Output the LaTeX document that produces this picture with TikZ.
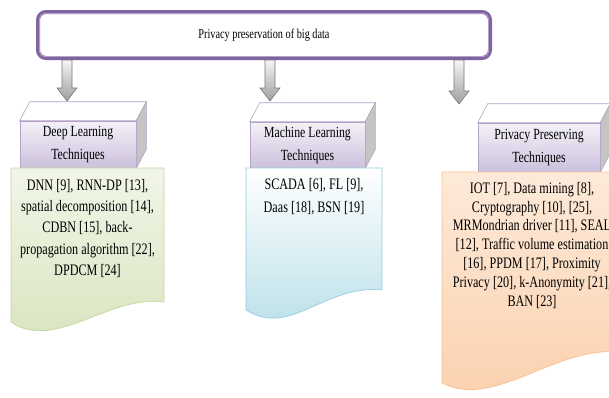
\documentclass[tikz,border=0pt]{standalone}
\usepackage{fontspec}
\setmainfont[FakeStretch=0.76]{Liberation Serif}
\usetikzlibrary{calc,positioning}
\definecolor{ttlpurple}{RGB}{128,100,162}
\definecolor{cubeedge}{RGB}{179,162,199}
\definecolor{cubetop}{RGB}{244,241,248}
\definecolor{cubefront}{RGB}{204,192,220}
\definecolor{cubeside}{RGB}{196,196,196}
\definecolor{dlgreen}{RGB}{215,228,189}
\definecolor{dlgreenedge}{RGB}{195,214,155}
\definecolor{mlblue}{RGB}{183,222,232}
\definecolor{mlblueedge}{RGB}{147,205,221}
\definecolor{pporange}{RGB}{251,208,172}
\definecolor{pporangeedge}{RGB}{250,192,144}
\definecolor{arrgray}{RGB}{120,120,120}

\begin{document}
\begin{tikzpicture}[x=1pt, y=-1pt,
  ttlbox/.style={draw=ttlpurple, line width=4pt, rounded corners=8pt, fill=white,
    minimum width=452pt, minimum height=46pt, font=\fontsize{13.5}{15}\selectfont},
  face/.style={draw=cubeedge, line width=0.6pt, top color=cubetop, bottom color=cubefront,
    align=center, inner sep=0pt, font=\fontsize{15.5}{23}\selectfont},
  topface/.style={draw=cubeedge, line width=0.6pt, fill=white},
  sideface/.style={draw=cubeedge, line width=0.6pt, fill=cubeside},
  listtxt/.style={align=center, inner sep=0pt, anchor=north},
  blockarr/.style={draw=arrgray, line width=0.6pt, top color=gray!8, bottom color=gray!75}]
  \useasboundingbox (0,0) rectangle (609,397);
  \clip (0,0) rectangle (609,397);

  % Title
  \node[ttlbox] (ttl) at (264,35) {Privacy preservation of big data};
  \draw[cubeedge, line width=0.7pt, rounded corners=5pt]
    ([shift={(3.5pt,-3.5pt)}]ttl.north west) rectangle ([shift={(-3.5pt,3.5pt)}]ttl.south east);

  % Arrows down to the three groups
  \coordinate (t1) at (67,101);
  \coordinate (t2) at (270,101);
  \coordinate (t3) at (459,104);
  \foreach \t in {t1,t2,t3} {
    \draw[blockarr] let \p1=(ttl.south -| \t), \p2=(\t) in
      (\x1-5pt,\y1) -- (\x1-5pt,\y2+13pt) -- (\x1-10pt,\y2+13pt) -- (\x2,\y2)
      -- (\x1+10pt,\y2+13pt) -- (\x1+5pt,\y2+13pt) -- (\x1+5pt,\y1) -- cycle;
  }

  % Deep learning
  \node[face, minimum width=116pt, minimum height=47pt] (dlt) at (78,144.5) {Deep Learning\\Techniques};
  \draw[topface] (dlt.north west) -- ++(10pt,19pt) -- ($(dlt.north east)+(10pt,19pt)$) -- (dlt.north east) -- cycle;
  \draw[sideface] (dlt.north east) -- ++(10pt,19pt) -- ($(dlt.south east)+(10pt,19pt)$) -- (dlt.south east) -- cycle;
  \draw[dlgreenedge, line width=0.7pt, top color=dlgreen!35!white, bottom color=dlgreen]
    (11,168) -- (164,168) -- (164,302) .. controls (110,294) and (55,352) .. (11,322) -- cycle;
  \node[listtxt, font=\fontsize{16}{21.3}\selectfont] (dlb) at (87.5,179)
    {DNN [9], RNN-DP [13],\\ spatial decomposition [14],\\ CDBN [15], back-\\propagation algorithm [22],\\ DPDCM [24]};

  % Machine learning
  \node[face, minimum width=115pt, minimum height=46pt] (mlt) at (307.5,145) {Machine Learning\\Techniques};
  \draw[topface] (mlt.north west) -- ++(10pt,19pt) -- ($(mlt.north east)+(10pt,19pt)$) -- (mlt.north east) -- cycle;
  \draw[sideface] (mlt.north east) -- ++(10pt,19pt) -- ($(mlt.south east)+(10pt,19pt)$) -- (mlt.south east) -- cycle;
  \draw[mlblueedge, line width=0.7pt, top color=white, bottom color=mlblue]
    (246,168) -- (382,168) -- (382,290) .. controls (325,284) and (290,338) .. (246,310) -- cycle;
  \node[listtxt, font=\fontsize{16}{23}\selectfont] (mlb) at (314,178)
    {SCADA [6], FL [9],\\ Daas [18], BSN [19]};

  % Privacy preserving
  \node[face, minimum width=122pt, minimum height=49pt] (ppt) at (539,147.5) {Privacy Preserving\\Techniques};
  \draw[topface] (ppt.north west) -- ++(10pt,19pt) -- ($(ppt.north east)+(10pt,19pt)$) -- (ppt.north east) -- cycle;
  \draw[sideface] (ppt.north east) -- ++(10pt,19pt) -- ($(ppt.south east)+(10pt,19pt)$) -- (ppt.south east) -- cycle;
  \draw[pporangeedge, line width=0.7pt, top color=pporange!45!white, bottom color=pporange]
    (442,172) -- (622,172) -- (622,352) .. controls (555,345) and (495,410) .. (442,383) -- cycle;
  \node[listtxt, font=\fontsize{16}{18.8}\selectfont] (ppb) at (532,182)
    {IOT [7], Data mining [8],\\ Cryptography [10], [25],\\ MRMondrian driver [11], SEAL\\{}[12], Traffic volume estimation\\{}[16], PPDM [17], Proximity\\ Privacy [20], k-Anonymity [21],\\ BAN [23]};
\end{tikzpicture}
\end{document}
